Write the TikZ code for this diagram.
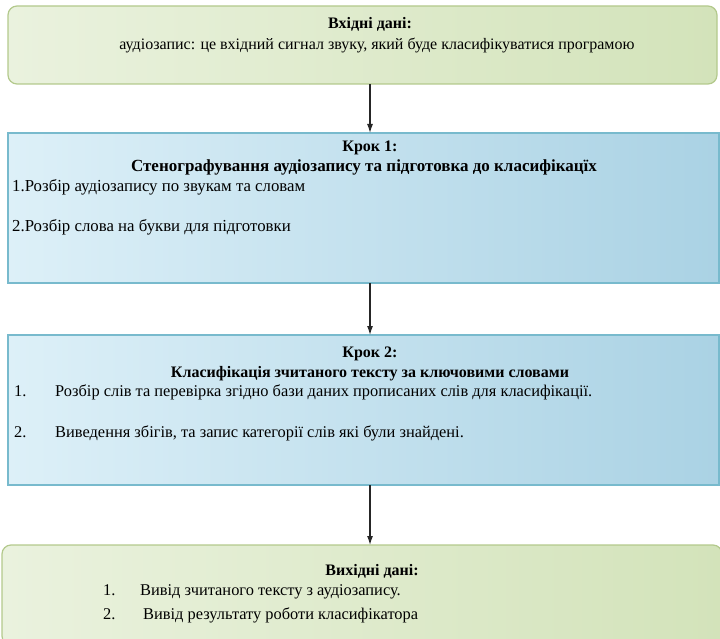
\documentclass[tikz,border=0pt]{standalone}
\usepackage{fontspec}
\setmainfont{Liberation Serif}
\usetikzlibrary{arrows.meta}
\definecolor{grnL}{HTML}{EAF2DE}
\definecolor{grnR}{HTML}{D3E3BA}
\definecolor{grnE}{HTML}{B3C98C}
\definecolor{bluL}{HTML}{DDF0F8}
\definecolor{bluR}{HTML}{AAD2E4}
\definecolor{bluE}{HTML}{78BACD}
\tikzset{
  inbox/.style={draw=grnE, line width=1.2pt, rounded corners=9pt,
    left color=grnL, right color=grnR, inner sep=0pt},
  stepbox/.style={draw=bluE, line width=1.4pt,
    left color=bluL, right color=bluR, inner sep=0pt},
  ttl/.style={font=\bfseries\fontsize{16}{18}\selectfont, anchor=base, inner sep=0pt},
  txt/.style={font=\fontsize{16.4}{18}\selectfont, anchor=base west, inner sep=0pt},
  txc/.style={font=\fontsize{16}{18}\selectfont, anchor=base, inner sep=0pt},
  big/.style={font=\fontsize{16.8}{18}\selectfont},
  bigb/.style={font=\bfseries\fontsize{17}{18}\selectfont},
  arr/.style={-{Latex[length=9pt,width=6pt]}, line width=1.2pt, draw=black!85}
}
\begin{document}
\begin{tikzpicture}[x=1pt,y=-1pt]
\useasboundingbox (0,0) rectangle (720,639);

% boxes
\path[inbox] (8,6) rectangle (717,84);
\node[minimum width=709pt, minimum height=78pt, anchor=north west] (b1) at (8,6) {};
\path[stepbox] (8,133) rectangle (719,283);
\node[minimum width=711pt, minimum height=150pt, anchor=north west] (b2) at (8,133) {};
\path[stepbox] (8,335) rectangle (719,485);
\node[minimum width=711pt, minimum height=150pt, anchor=north west] (b3) at (8,335) {};
\path[inbox] (2,545) rectangle (722,645);
\node[minimum width=720pt, minimum height=100pt, anchor=north west] (b4) at (2,545) {};

% input
\node[ttl] (t1) at (370,29) {Вхідні дані:};
\node[txc] (t1a) at (377,50) {аудіозапис: це вхідний сигнал звуку, який буде класифікуватися програмою};

% step 1
\node[ttl] (t2) at (370,152) {Крок 1:};
\node[ttl, bigb] (t2a) at (364,172) {Стенографування аудіозапису та підготовка до класифікацїх};
\node[txt, big] (t2b) at (12,192) {1.Розбір аудіозапису по звукам та словам};
\node[txt, big] (t2c) at (12,231) {2.Розбір слова на букви для підготовки};

% step 2
\node[ttl] (t3) at (370,357) {Крок 2:};
\node[ttl] (t3a) at (370,377) {Класифікація зчитаного тексту за ключовими словами};
\node[txt] (t3b) at (14,396) {1.};
\node[txt] (t3c) at (55,396) {Розбір слів та перевірка згідно бази даних прописаних слів для класифікації.};
\node[txt] (t3d) at (14,437) {2.};
\node[txt] (t3e) at (55,437) {Виведення збігів, та запис категорії слів які були знайдені.};

% output
\node[ttl] (t4) at (372,575) {Вихідні дані:};
\node[txt] (t4b) at (103,595) {1.};
\node[txt] (t4c) at (140,595) {Вивід зчитаного тексту з аудіозапису.};
\node[txt] (t4d) at (103,619) {2.};
\node[txt] (t4e) at (143,619) {Вивід результату роботи класифікатора};

% connectors
\coordinate (ax) at (370,0);
\draw[arr] (b1.south -| ax) -- (b2.north -| ax);
\draw[arr] (b2.south -| ax) -- (b3.north -| ax);
\draw[arr] (b3.south -| ax) -- (b4.north -| ax);
\end{tikzpicture}
\end{document}
